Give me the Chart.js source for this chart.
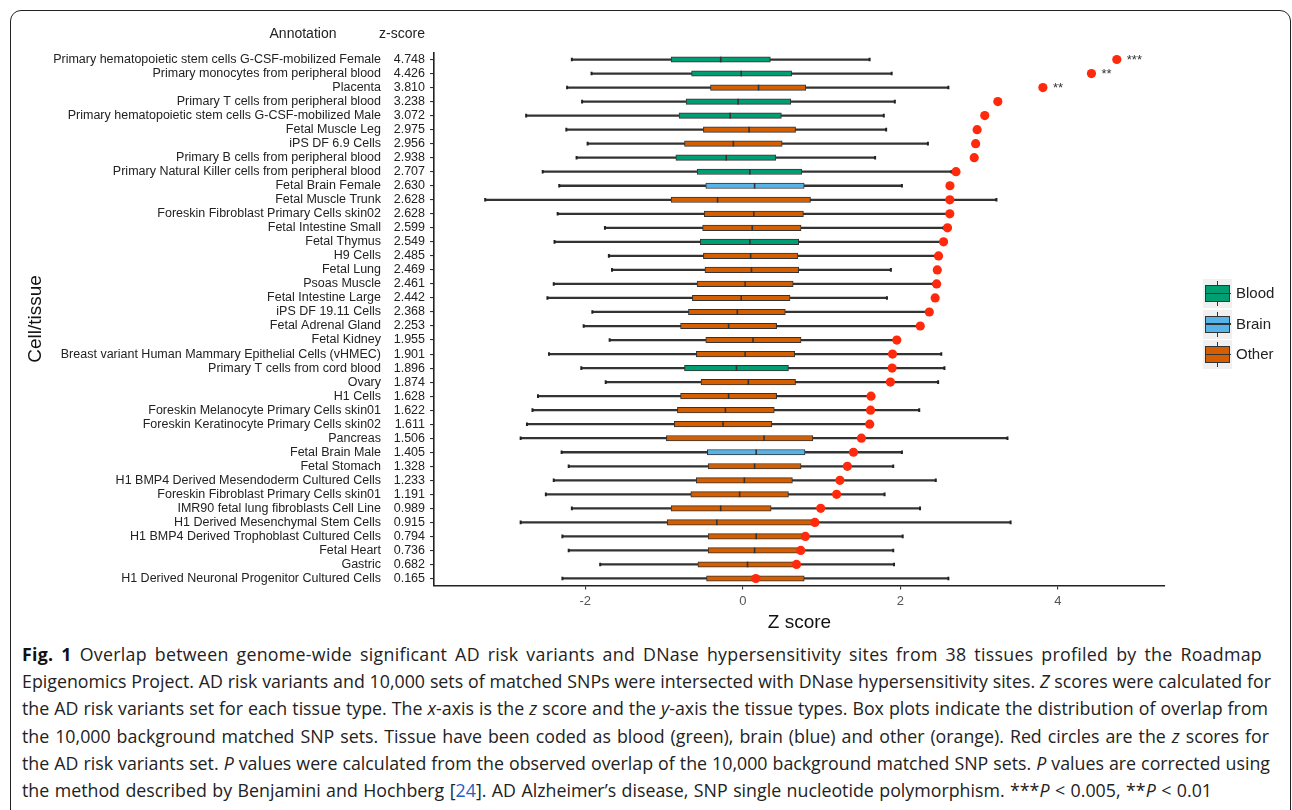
<!DOCTYPE html>
<html>
<head>
<meta charset="utf-8">
<script src="https://cdn.jsdelivr.net/npm/chart.js@4.4.1/dist/chart.umd.min.js"></script>
<style>
  html, body { margin:0; padding:0; background:#fff; width:1292px; height:810px; overflow:hidden; }
  #frame { position:absolute; left:10px; top:10px; width:1279px; height:900px; border:1.5px solid #222; border-radius:11px; }
  #c { position:absolute; left:0; top:0; }
  .hdr { position:absolute; top:25px; font-family:"Liberation Sans", Arial, sans-serif; font-size:14px; color:#222; white-space:nowrap; transform:translateX(-50%); }
  .leg { position:absolute; left:1203px; width:29px; height:29px; background:#f0f0f0; }
  .leg .wh { position:absolute; left:13.5px; top:2px; width:1.6px; height:25px; background:#333; }
  .leg .bx { position:absolute; left:2px; top:6px; width:23px; height:15px; border:1.3px solid #333; }
  .leg .md { position:absolute; left:2px; top:13.5px; width:25.6px; height:1.6px; background:#333; }
  .legt { position:absolute; left:1236px; font-family:"Liberation Sans", Arial, sans-serif; font-size:15px; color:#222; }
  #cap { position:absolute; left:22px; top:641px; font-family:"Open Sans", sans-serif; font-size:17.8px; line-height:27.2px; color:#222; }
  #cap div { white-space:nowrap; text-align:justify; text-align-last:justify; overflow:visible; }
  #cap b { color:#111; }
  #cap .ref { color:#1f5fbf; }
</style>
</head>
<body>
<div id="frame"></div>
<canvas id="c" width="1292" height="640"></canvas>
<div class="hdr" style="left:303px">Annotation</div>
<div class="hdr" style="left:402px">z-score</div>
<div id="legend"></div>
<div id="cap">
  <div style="width:1240px;letter-spacing:0.28px"><b>Fig. 1</b> Overlap between genome-wide significant AD risk variants and DNase hypersensitivity sites from 38 tissues profiled by the Roadmap</div>
  <div style="width:1249px">Epigenomics Project. AD risk variants and 10,000 sets of matched SNPs were intersected with DNase hypersensitivity sites. <i>Z</i> scores were calculated for</div>
  <div style="width:1246px">the AD risk variants set for each tissue type. The <i>x</i>-axis is the <i>z</i> score and the <i>y</i>-axis the tissue types. Box plots indicate the distribution of overlap from</div>
  <div style="width:1247px">the 10,000 background matched SNP sets. Tissue have been coded as blood (green), brain (blue) and other (orange). Red circles are the <i>z</i> scores for</div>
  <div style="width:1248px">the AD risk variants set. <i>P</i> values were calculated from the observed overlap of the 10,000 background matched SNP sets. <i>P</i> values are corrected using</div>
  <div style="width:1190px">the method described by Benjamini and Hochberg [<span class="ref">24</span>]. AD Alzheimer’s disease, SNP single nucleotide polymorphism. ***<i>P</i> &lt; 0.005, **<i>P</i> &lt; 0.01</div>
</div>
<script>
// ---- data ----
const tissues = [
  "Primary hematopoietic stem cells G-CSF-mobilized Female",
  "Primary monocytes from peripheral blood",
  "Placenta",
  "Primary T cells from peripheral blood",
  "Primary hematopoietic stem cells G-CSF-mobilized Male",
  "Fetal Muscle Leg",
  "iPS DF 6.9 Cells",
  "Primary B cells from peripheral blood",
  "Primary Natural Killer cells from peripheral blood",
  "Fetal Brain Female",
  "Fetal Muscle Trunk",
  "Foreskin Fibroblast Primary Cells skin02",
  "Fetal Intestine Small",
  "Fetal Thymus",
  "H9 Cells",
  "Fetal Lung",
  "Psoas Muscle",
  "Fetal Intestine Large",
  "iPS DF 19.11 Cells",
  "Fetal Adrenal Gland",
  "Fetal Kidney",
  "Breast variant Human Mammary Epithelial Cells (vHMEC)",
  "Primary T cells from cord blood",
  "Ovary",
  "H1 Cells",
  "Foreskin Melanocyte Primary Cells skin01",
  "Foreskin Keratinocyte Primary Cells skin02",
  "Pancreas",
  "Fetal Brain Male",
  "Fetal Stomach",
  "H1 BMP4 Derived Mesendoderm Cultured Cells",
  "Foreskin Fibroblast Primary Cells skin01",
  "IMR90 fetal lung fibroblasts Cell Line",
  "H1 Derived Mesenchymal Stem Cells",
  "H1 BMP4 Derived Trophoblast Cultured Cells",
  "Fetal Heart",
  "Gastric",
  "H1 Derived Neuronal Progenitor Cultured Cells"
];
const zLabels = ["4.748","4.426","3.810","3.238","3.072","2.975","2.956","2.938","2.707","2.630","2.628","2.628","2.599","2.549","2.485","2.469","2.461","2.442","2.368","2.253","1.955","1.901","1.896","1.874","1.628","1.622","1.611","1.506","1.405","1.328","1.233","1.191","0.989","0.915","0.794","0.736","0.682","0.165"];
const zScores = [4.748,4.426,3.810,3.238,3.072,2.975,2.956,2.938,2.707,2.630,2.628,2.628,2.599,2.549,2.485,2.469,2.461,2.442,2.368,2.253,1.955,1.901,1.896,1.874,1.628,1.622,1.611,1.506,1.405,1.328,1.233,1.191,0.989,0.915,0.794,0.736,0.682,0.165];
const annotation = ["Blood","Blood","Other","Blood","Blood","Other","Other","Blood","Blood","Brain","Other","Other","Other","Blood","Other","Other","Other","Other","Other","Other","Other","Other","Blood","Other","Other","Other","Other","Other","Brain","Other","Other","Other","Other","Other","Other","Other","Other","Other"];
const whiskerLow  = [-2.17,-1.92,-2.23,-2.04,-2.75,-2.24,-1.97,-2.11,-2.54,-2.33,-3.27,-2.35,-1.75,-2.39,-1.70,-1.66,-2.40,-2.48,-1.91,-2.02,-1.69,-2.46,-2.05,-1.74,-2.60,-2.67,-2.74,-2.82,-2.30,-2.21,-2.40,-2.50,-2.17,-2.82,-2.29,-2.21,-1.81,-2.29];
const boxQ1       = [-0.91,-0.65,-0.41,-0.72,-0.81,-0.50,-0.74,-0.85,-0.58,-0.47,-0.91,-0.49,-0.51,-0.54,-0.50,-0.48,-0.58,-0.64,-0.69,-0.79,-0.47,-0.59,-0.74,-0.53,-0.79,-0.83,-0.87,-0.97,-0.45,-0.44,-0.59,-0.66,-0.91,-0.96,-0.44,-0.44,-0.57,-0.46];
const boxMedian   = [-0.28,-0.02,0.20,-0.06,-0.16,0.08,-0.12,-0.21,0.09,0.15,-0.32,0.14,0.12,0.09,0.10,0.11,0.03,-0.02,-0.07,-0.18,0.13,0.03,-0.08,0.07,-0.18,-0.22,-0.25,0.27,0.17,0.15,0.02,-0.04,-0.28,-0.33,0.17,0.15,0.06,0.17];
const boxQ3       = [0.35,0.62,0.80,0.61,0.49,0.67,0.50,0.42,0.75,0.78,0.86,0.77,0.74,0.71,0.70,0.71,0.64,0.60,0.54,0.43,0.74,0.66,0.58,0.67,0.43,0.40,0.37,0.89,0.79,0.74,0.63,0.58,0.36,0.88,0.79,0.73,0.68,0.78];
const whiskerHigh = [1.61,1.89,2.61,1.93,1.79,1.82,2.35,1.68,2.65,2.02,3.22,2.60,2.55,2.52,2.45,1.88,2.42,1.83,2.33,2.22,1.93,2.52,2.56,2.48,1.60,2.24,1.58,3.36,2.02,1.91,2.45,1.80,2.25,3.40,2.03,1.91,1.92,2.61];
const stars = ["***","**","**"];
const xTicks = [-2, 0, 2, 4];
const groupNames = ["Blood","Brain","Other"];
const groupColors = {Blood:"#009E73", Brain:"#56B4E9", Other:"#D55E00"};

// ---- legend (HTML) ----
const legEl = document.getElementById('legend');
groupNames.forEach((g, i) => {
  const top = 279 + i * 30.5;
  legEl.insertAdjacentHTML('beforeend',
    `<div class="leg" style="top:${top}px"><div class="wh"></div><div class="bx" style="background:${groupColors[g]}"></div><div class="md"></div></div>` +
    `<div class="legt" style="top:${top + 5}px">${g}</div>`);
});

// ---- chart ----
const FONT = '"Liberation Sans", Arial, sans-serif';
const dark = '#333';
const boxColors = annotation.map(a => groupColors[a]);

const starPlugin = {
  id: 'stars',
  afterDatasetsDraw(chart) {
    const meta = chart.getDatasetMeta(4);
    const ctx = chart.ctx;
    ctx.save();
    ctx.font = '13px ' + FONT;
    ctx.fillStyle = '#333';
    ctx.textAlign = 'left';
    ctx.textBaseline = 'middle';
    meta.data.forEach((pt, i) => { if (stars[i]) ctx.fillText(stars[i], pt.x + 10, pt.y + 1); });
    ctx.restore();
  }
};

new Chart(document.getElementById('c'), {
  type: 'bar',
  data: {
    labels: tissues,
    datasets: [
      { type:'bar', label:'whisker', data: tissues.map((t,i)=>[whiskerLow[i], whiskerHigh[i]]),
        backgroundColor: dark, barThickness: 1.6, grouped:false, order:4, yAxisID:'y' },
      { type:'bar', label:'box', data: tissues.map((t,i)=>[boxQ1[i], boxQ3[i]]),
        backgroundColor: boxColors, borderColor: dark, borderWidth: 1, borderSkipped:false,
        barThickness: 5.5, grouped:false, order:3, yAxisID:'y' },
      { type:'scatter', label:'median', data: tissues.map((t,i)=>({x: boxMedian[i], y: t})),
        pointStyle:'line', rotation:90, radius:2.8, borderColor: dark, borderWidth:1.6, order:2, yAxisID:'y' },
      { type:'scatter', label:'caps', data: tissues.flatMap((t,i)=>[{x: whiskerLow[i], y: t},{x: whiskerHigh[i], y: t}]),
        pointStyle:'line', rotation:90, radius:1.8, borderColor: '#222', borderWidth:2, order:1, yAxisID:'y' },
      { type:'scatter', label:'z', data: tissues.map((t,i)=>({x: zScores[i], y: t})),
        pointStyle:'circle', radius:4.6, backgroundColor:'#ff2a0c', borderWidth:0, order:0, yAxisID:'y' }
    ]
  },
  options: {
    indexAxis: 'y',
    responsive: false,
    animation: false,
    events: [],
    layout: { padding: { left: 22, top: 52.5, right: 127, bottom: 4.5 } },
    plugins: { legend: { display:false }, tooltip: { enabled:false } },
    scales: {
      x: {
        type: 'linear', min: -3.92, max: 5.36,
        afterBuildTicks: s => { s.ticks = xTicks.map(v => ({ value: v })); },
        afterFit: s => { s.height = 50; },
        grid: { display:true, drawOnChartArea:false, drawTicks:true, tickLength:4, color:'#333', lineWidth:1.1 },
        border: { display:true, color:'#222', width:1.6 },
        ticks: { font: { family: FONT, size: 13 }, color:'#555', padding: 4 },
        title: { display:true, text:'Z score', font: { family: FONT, size: 19 }, color:'#111', padding: { top:0, bottom:1.7 } }
      },
      yz: {
        type: 'category', labels: zLabels, position: 'left', offset: true, weight: 0,
        afterFit: s => { s.width = 50; },
        grid: { display:true, offset:false, drawOnChartArea:false, drawTicks:true, tickLength:4, color:'#333', lineWidth:1.1 },
        border: { display:true, color:'#222', width:1.6 },
        ticks: { autoSkip:false, font: { family: FONT, size: 12.5 }, color:'#222', padding: 5 }
      },
      y: {
        type: 'category', position: 'left', offset: true, weight: 1,
        afterFit: s => { s.width = 362; },
        grid: { display:false, drawTicks:false, tickLength:0 },
        border: { display:false },
        ticks: { autoSkip:false, font: { family: FONT, size: 12.5 }, color:'#222', padding: 3 },
        title: { display:true, text:'Cell/tissue', font: { family: FONT, size: 19 }, color:'#111', padding: { top:2, bottom:0 } }
      }
    }
  },
  plugins: [starPlugin]
});
</script>
</body>
</html>
